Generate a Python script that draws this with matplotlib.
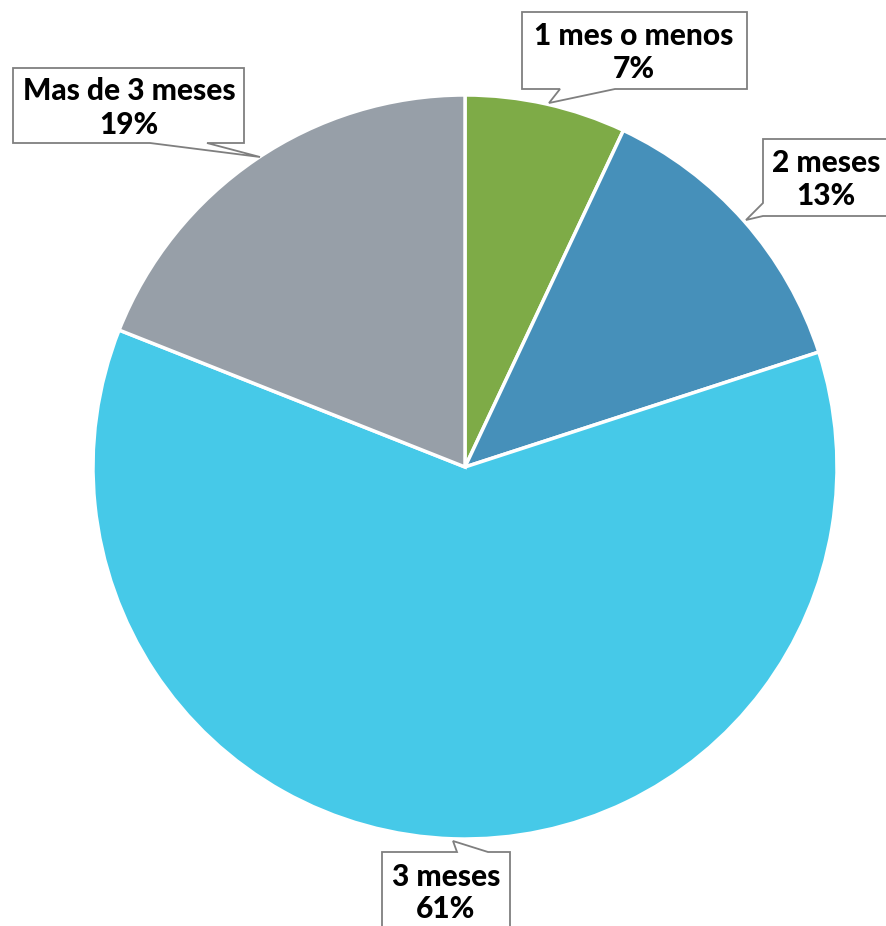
import matplotlib
matplotlib.use("Agg")
import matplotlib.pyplot as plt
from matplotlib.patches import Polygon

categories = ["1 mes o menos", "2 meses", "3 meses", "Mas de 3 meses"]
values = [7, 13, 61, 19]
colors = ["#7EAB47", "#4690BA", "#46C9E8", "#979FA8"]

W, H = 886, 926
CX, CY, R = 465, 467, 372

def d(px, py):
    return ((px - CX) / R, (CY - py) / R)

fig = plt.figure(figsize=(W / 100, H / 100), dpi=100)
ax = fig.add_axes([0, 0, 1, 1])
ax.pie(values, colors=colors, startangle=90, counterclock=False, radius=1,
       wedgeprops=dict(edgecolor="white", linewidth=2.5))
ax.set_xlim(-CX / R, (W - CX) / R)
ax.set_ylim((CY - H) / R, CY / R)
ax.set_aspect("auto")
ax.axis("off")

callouts = [
    dict(box=(522, 12, 747, 89), side="bottom", base=(615, 560), tip=(549, 103),
         text=(634, 36, 69)),
    dict(box=(763, 139, 900, 216), side="left", base=(216, 203), tip=(746, 220),
         text=(826, 163, 196)),
    dict(box=(382, 852, 510, 940), side="top", base=(457, 488), tip=(453, 841),
         text=(446, 877, 909)),
    dict(box=(13, 68, 244, 143), side="bottom", base=(207, 150), tip=(260, 157),
         text=(129, 91, 125)),
]

def outline(c):
    x0, y0, x1, y1 = c["box"]
    b0, b1 = c["base"]
    tx, ty = c["tip"]
    if c["side"] == "bottom":
        pts = [(x0, y0), (x1, y0), (x1, y1), (b0, y1), (tx, ty), (b1, y1), (x0, y1)]
    elif c["side"] == "top":
        pts = [(x0, y1), (x0, y0), (b0, y0), (tx, ty), (b1, y0), (x1, y0), (x1, y1)]
    else:
        pts = [(x1, y0), (x0, y0), (x0, b1), (tx, ty), (x0, b0), (x0, y1), (x1, y1)]
    return [d(px, py) for px, py in pts]

for c, cat, v in zip(callouts, categories, values):
    poly = Polygon(outline(c), closed=True, facecolor="white",
                   edgecolor="#7F7F7F", linewidth=1.3, zorder=5)
    ax.add_patch(poly)
    tx, ty1, ty2 = c["text"]
    ax.text(*d(tx, ty1), cat, ha="center", va="center", fontsize=21.5,
            fontweight=900, family="Lato", color="black", zorder=6)
    ax.text(*d(tx, ty2), f"{v}%", ha="center", va="center", fontsize=21.5,
            fontweight=900, family="Lato", color="black", zorder=6)

fig.savefig("out.png", dpi=100)
